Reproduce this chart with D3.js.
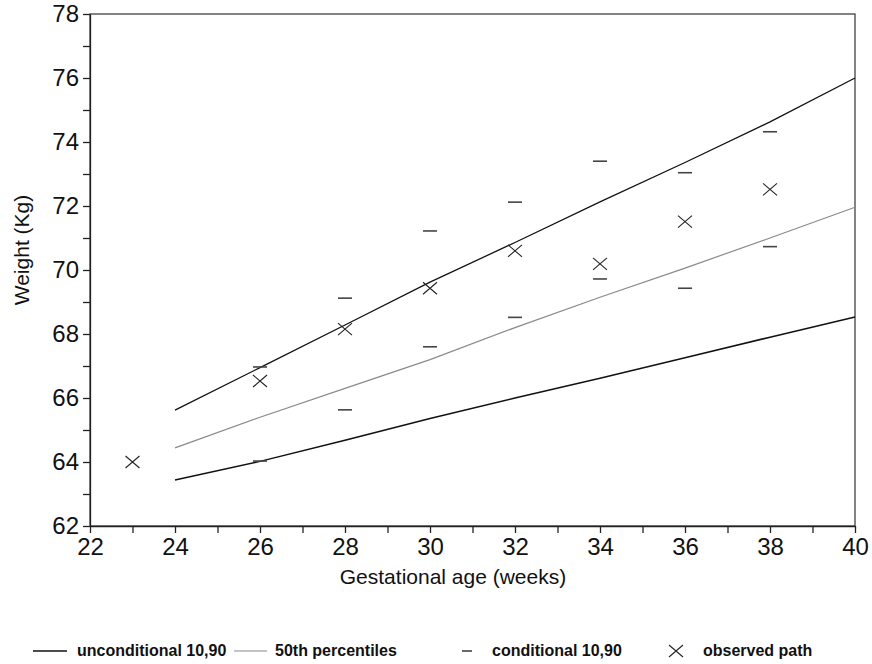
<!DOCTYPE html>
<html>
<head>
<meta charset="utf-8">
<script src="https://cdn.jsdelivr.net/npm/d3@7"></script>
<style>
  body { margin: 0; background: #fff; }
  svg { font-family: "Liberation Sans", Arial, sans-serif; }
  .axis text { font-size: 24px; fill: #111; }
  .axis line, .axis path { stroke: #222; stroke-width: 1.3; }
</style>
</head>
<body>
<div id="chart"></div>
<script>
const F_WIDTH = 872;
const F_HEIGHT = 664;
const MARGINS = {left: 90, right: 17, top: 14, bottom: 138};

const VIS_WIDTH = F_WIDTH - MARGINS.left - MARGINS.right;
const VIS_HEIGHT = F_HEIGHT - MARGINS.top - MARGINS.bottom;

// unconditional percentile curves
const WEEKS = [24, 26, 28, 30, 32, 34, 36, 38, 40];
const UPPER_90 = [65.62, 66.95, 68.28, 69.62, 70.86, 72.13, 73.36, 74.63, 76.0];
const MEDIAN_50 = [64.44, 65.4, 66.3, 67.2, 68.2, 69.15, 70.06, 71.0, 71.96];
const LOWER_10 = [63.44, 64.02, 64.68, 65.36, 66.0, 66.62, 67.26, 67.9, 68.53];

// conditional 10,90 limits
const COND_WEEKS = [26, 28, 30, 32, 34, 36, 38];
const COND_10 = [64.03, 65.63, 67.6, 68.52, 69.72, 69.43, 70.73];
const COND_90 = [66.97, 69.12, 71.22, 72.12, 73.4, 73.04, 74.32];

// observed path
const OBS_WEEKS = [23, 26, 28, 30, 32, 34, 36, 38];
const OBS_WEIGHT = [64.0, 66.53, 68.15, 69.43, 70.6, 70.19, 71.51, 72.52];

const X_TICKS = d3.range(22, 41);
const Y_TICKS = d3.range(62, 79);

const svg = d3.select("#chart")
  .append("svg")
    .attr("width", F_WIDTH)
    .attr("height", F_HEIGHT);

const X_SCALE = d3.scaleLinear().domain([22, 40]).range([0, VIS_WIDTH]);
const Y_SCALE = d3.scaleLinear().domain([62, 78]).range([VIS_HEIGHT, 0]);

const FRAME = svg.append("g")
  .attr("transform", "translate(" + MARGINS.left + "," + MARGINS.top + ")");

// box around plot
FRAME.append("rect")
  .attr("x", 0).attr("y", 0)
  .attr("width", VIS_WIDTH).attr("height", VIS_HEIGHT)
  .attr("fill", "none")
  .attr("stroke", "#333")
  .attr("stroke-width", 1.2);

// x-axis
FRAME.append("g")
  .attr("class", "axis")
  .attr("transform", "translate(0," + VIS_HEIGHT + ")")
  .call(d3.axisBottom(X_SCALE)
    .tickValues(X_TICKS)
    .tickSize(7)
    .tickSizeOuter(0)
    .tickPadding(5)
    .tickFormat(d => d % 2 ? "" : d));

// y-axis
FRAME.append("g")
  .attr("class", "axis")
  .call(d3.axisLeft(Y_SCALE)
    .tickValues(Y_TICKS)
    .tickSize(7)
    .tickSizeOuter(0)
    .tickPadding(4)
    .tickFormat(d => d % 2 ? "" : d));

// axis titles
svg.append("text")
  .attr("x", 453)
  .attr("y", 584)
  .attr("text-anchor", "middle")
  .attr("font-size", 21)
  .attr("fill", "#111")
  .text("Gestational age (weeks)");

svg.append("text")
  .attr("transform", "translate(29,250) rotate(-90)")
  .attr("text-anchor", "middle")
  .attr("font-size", 21)
  .attr("fill", "#111")
  .text("Weight (Kg)");

// curves
const line = d3.line()
  .x((d, i) => X_SCALE(WEEKS[i]))
  .y(d => Y_SCALE(d));

FRAME.append("path").datum(UPPER_90)
  .attr("d", line).attr("fill", "none")
  .attr("stroke", "#111").attr("stroke-width", 1.3);

FRAME.append("path").datum(LOWER_10)
  .attr("d", line).attr("fill", "none")
  .attr("stroke", "#111").attr("stroke-width", 1.5);

FRAME.append("path").datum(MEDIAN_50)
  .attr("d", line).attr("fill", "none")
  .attr("stroke", "#8a8a8a").attr("stroke-width", 1.2);

// conditional dashes
const condData = COND_WEEKS.flatMap((w, i) => [
  {w: w, v: COND_10[i]},
  {w: w, v: COND_90[i]}
]);

FRAME.selectAll(".cond")
  .data(condData)
  .enter()
  .append("line")
    .attr("class", "cond")
    .attr("x1", d => X_SCALE(d.w) - 7)
    .attr("x2", d => X_SCALE(d.w) + 7)
    .attr("y1", d => Y_SCALE(d.v))
    .attr("y2", d => Y_SCALE(d.v))
    .attr("stroke", "#444")
    .attr("stroke-width", 1.6);

// observed crosses
const cross = (sx, sy) => "M" + (sx - 7) + "," + (sy - 6) + "L" + (sx + 7) + "," + (sy + 6) +
  "M" + (sx - 7) + "," + (sy + 6) + "L" + (sx + 7) + "," + (sy - 6);

FRAME.selectAll(".obs")
  .data(OBS_WEEKS)
  .enter()
  .append("path")
    .attr("class", "obs")
    .attr("d", (w, i) => cross(X_SCALE(w), Y_SCALE(OBS_WEIGHT[i])))
    .attr("fill", "none")
    .attr("stroke", "#222")
    .attr("stroke-width", 1.1);

// legend
const LEG_Y = 651;
const legend = svg.append("g").attr("font-size", 16).attr("font-weight", "bold").attr("fill", "#111");

legend.append("line")
  .attr("x1", 33).attr("x2", 67).attr("y1", LEG_Y).attr("y2", LEG_Y)
  .attr("stroke", "#111").attr("stroke-width", 1.3);
legend.append("text").attr("x", 77).attr("y", LEG_Y + 5).text("unconditional 10,90");

legend.append("line")
  .attr("x1", 234).attr("x2", 267).attr("y1", LEG_Y).attr("y2", LEG_Y)
  .attr("stroke", "#8a8a8a").attr("stroke-width", 1.2);
legend.append("text").attr("x", 275).attr("y", LEG_Y + 5).text("50th percentiles");

legend.append("line")
  .attr("x1", 462).attr("x2", 472).attr("y1", LEG_Y).attr("y2", LEG_Y)
  .attr("stroke", "#444").attr("stroke-width", 1.6);
legend.append("text").attr("x", 492).attr("y", LEG_Y + 5).text("conditional 10,90");

legend.append("path")
  .attr("d", cross(676, LEG_Y))
  .attr("fill", "none").attr("stroke", "#222").attr("stroke-width", 1.1);
legend.append("text").attr("x", 703).attr("y", LEG_Y + 5).text("observed path");
</script>
</body>
</html>
